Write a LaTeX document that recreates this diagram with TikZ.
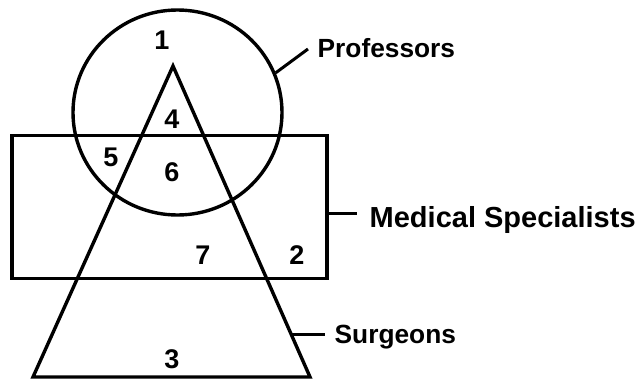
\documentclass[tikz,border=0pt]{standalone}
\usepackage{fontspec}
\setmainfont{Liberation Sans}
\usetikzlibrary{shapes.geometric,calc}
\begin{document}
\begin{tikzpicture}[x=1pt,y=-1pt,line width=3.4pt,
  lbl/.style={font=\bfseries\fontsize{26.3}{26}\selectfont,inner sep=0pt},
  biglbl/.style={font=\bfseries\fontsize{29}{29}\selectfont,inner sep=0pt},
  num/.style={font=\bfseries\fontsize{27}{27}\selectfont,inner sep=0pt},
  leader/.style={line width=3pt}]
\useasboundingbox (0,0) rectangle (638,383);
% Professors circle
\node[draw,ellipse,minimum width=209pt,minimum height=205pt,inner sep=0pt] (prof) at (177.5,112.5) {};
% Medical specialists rectangle
\node[draw,rectangle,minimum width=315pt,minimum height=143pt,inner sep=0pt] (med) at (169.5,207) {};
% Surgeons triangle
\coordinate (apex) at (173,66);
\coordinate (bl) at (33,377);
\coordinate (br) at (310,377);
\draw[line join=miter] (apex) -- (bl) -- (br) -- cycle;
% labels
\node[lbl,anchor=base west] (profl) at (316,57) {Professors};
\node[biglbl,anchor=base west] (medl) at (368,227) {Medical Specialists};
\node[lbl,anchor=base west] (surgl) at (333,343) {Surgeons};
% leaders
\coordinate (profend) at (308,49);
\draw[leader] (prof.22) -- (profend);
\coordinate (medend) at (357,213);
\draw[leader] (med.east |- medend) -- (medend);
\coordinate (sg) at ($(apex)!0.862!(br)$);
\coordinate (surgend) at (325,334);
\draw[leader] (sg |- surgend) -- (surgend);
% region numbers
\node[num] (n1) at (162,40) {1};
\node[num] (n4) at (172,119) {4};
\node[num] (n5) at (111,157) {5};
\node[num] (n6) at (172,172) {6};
\node[num] (n7) at (203,255) {7};
\node[num] (n2) at (297,255) {2};
\node[num] (n3) at (172,359) {3};
\end{tikzpicture}
\end{document}
